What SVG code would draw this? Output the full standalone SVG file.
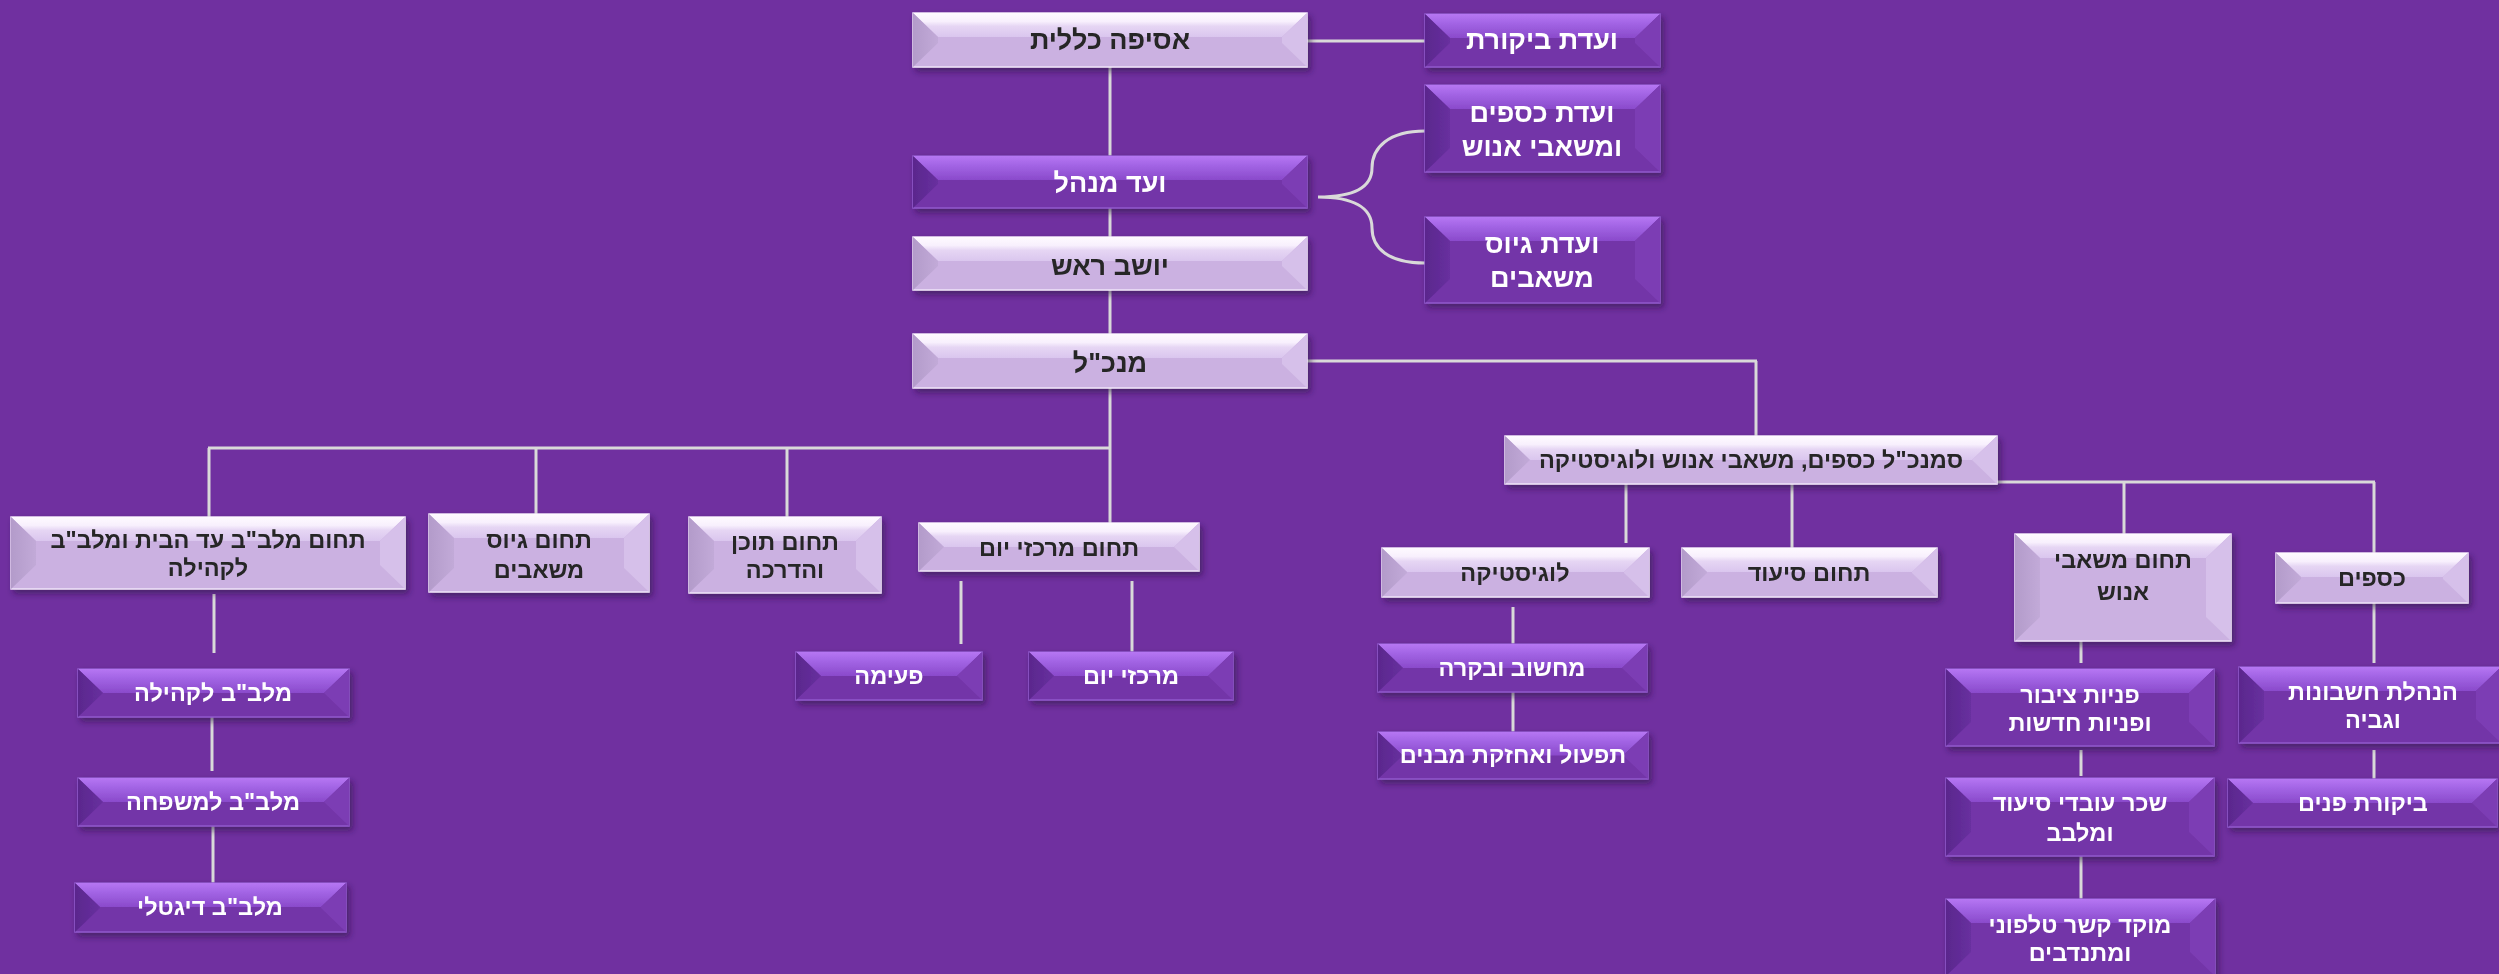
<svg xmlns="http://www.w3.org/2000/svg" width="2499" height="974" viewBox="0 0 2499 974">
<defs>
<linearGradient id="ltTop" x1="0" y1="0" x2="0" y2="1"><stop offset="0" stop-color="#fefaff"/><stop offset="0.35" stop-color="#f8f0fd"/><stop offset="0.55" stop-color="#e6d6f4"/><stop offset="1" stop-color="#dac6ee"/></linearGradient>
<linearGradient id="ltLeft" x1="0" y1="0" x2="1" y2="0"><stop offset="0" stop-color="#b39bca"/><stop offset="1" stop-color="#c2aad8"/></linearGradient>
<linearGradient id="dkTop" x1="0" y1="0" x2="0" y2="1"><stop offset="0" stop-color="#b676f3"/><stop offset="0.4" stop-color="#a264e4"/><stop offset="1" stop-color="#8a4acb"/></linearGradient>
<linearGradient id="dkLeft" x1="0" y1="0" x2="1" y2="0"><stop offset="0" stop-color="#5a278d"/><stop offset="1" stop-color="#68309f"/></linearGradient>
<filter id="sh" x="-10%" y="-20%" width="125%" height="160%"><feDropShadow dx="3" dy="4" stdDeviation="3" flood-color="#2a0a40" flood-opacity="0.55"/></filter>
</defs>
<style>
.lt .b{fill:#cbb1e1;stroke:#efe4f8;stroke-width:1.5}
.lt .t{fill:url(#ltTop)}
.lt .l{fill:url(#ltLeft)}
.lt .r{fill:#d6c0ea}
.dk .b{fill:#7334a8;stroke:#9058cc;stroke-width:1.5}
.dk .t{fill:url(#dkTop)}
.dk .l{fill:url(#dkLeft)}
.dk .r{fill:#7c3db4}
.node{filter:url(#sh)}
text{font-family:"Liberation Sans","DejaVu Sans",sans-serif;font-weight:bold;text-anchor:middle;direction:rtl}
.lt text{fill:#262626}
.dk text{fill:#ffffff}
.f27{font-size:27px}
.f22{font-size:23.5px}
#connectors path,#connectors line{stroke:#d9d9d9;stroke-width:3;fill:none}
</style>
<rect width="2499" height="974" fill="#7030a0"/>

<g id="connectors">
<line x1="1307" y1="41" x2="1425" y2="41"/>
<line x1="1110" y1="67" x2="1110" y2="156"/>
<line x1="1110" y1="208" x2="1110" y2="237"/>
<line x1="1110" y1="290" x2="1110" y2="334"/>
<line x1="1110" y1="388" x2="1110" y2="523"/>
<line x1="208" y1="448" x2="1110" y2="448"/>
<line x1="209" y1="448" x2="209" y2="517"/>
<line x1="536" y1="448" x2="536" y2="514"/>
<line x1="787" y1="448" x2="787" y2="517"/>
<line x1="1307" y1="361" x2="1757" y2="361"/>
<line x1="1756" y1="361" x2="1756" y2="436"/>
<line x1="1626" y1="484" x2="1626" y2="543"/>
<line x1="1792" y1="484" x2="1792" y2="548"/>
<line x1="1997" y1="482" x2="2375" y2="482"/>
<line x1="2124" y1="482" x2="2124" y2="534"/>
<line x1="2374" y1="482" x2="2374" y2="553"/>
<line x1="1513" y1="607" x2="1513" y2="644"/>
<line x1="1513" y1="692" x2="1513" y2="732"/>
<line x1="2081" y1="641" x2="2081" y2="663"/>
<line x1="2081" y1="750" x2="2081" y2="776"/>
<line x1="2081" y1="853" x2="2081" y2="900"/>
<line x1="2374" y1="603" x2="2374" y2="663"/>
<line x1="2374" y1="750" x2="2374" y2="779"/>
<line x1="961" y1="581" x2="961" y2="644"/>
<line x1="1132" y1="581" x2="1132" y2="652"/>
<line x1="214" y1="594" x2="214" y2="653"/>
<line x1="212" y1="717" x2="212" y2="771"/>
<line x1="213" y1="826" x2="213" y2="883"/>
<path d="M1425,131 C1388,131 1372,148 1372,168 C1372,188 1352,197 1318,197 C1352,197 1372,207 1372,228 C1372,248 1388,263 1425,263"/>
</g>

<g id="n-asifa" class="node lt" transform="translate(913,13)">
<rect class="b" width="394" height="54"/><polygon class="t" points="0,0 394,0 369,24 25,24"/><polygon class="l" points="0,0 25,24 25,30 0,54"/><polygon class="r" points="394,0 394,54 369,30 369,24"/>
<text class="f27" x="197" y="36">אסיפה כללית</text></g>

<g id="n-bikoret" class="node dk" transform="translate(1425,14)">
<rect class="b" width="235" height="53"/><polygon class="t" points="0,0 235,0 210,24 25,24"/><polygon class="l" points="0,0 25,24 25,29 0,53"/><polygon class="r" points="235,0 235,53 210,29 210,24"/>
<text class="f27" x="117" y="35">ועדת ביקורת</text></g>

<g id="n-vaad" class="node dk" transform="translate(913,156)">
<rect class="b" width="394" height="52"/><polygon class="t" points="0,0 394,0 369,24 25,24"/><polygon class="l" points="0,0 25,24 25,28 0,52"/><polygon class="r" points="394,0 394,52 369,28 369,24"/>
<text class="f27" x="197" y="36">ועד מנהל</text></g>

<g id="n-ksafim-v" class="node dk" transform="translate(1425,85)">
<rect class="b" width="235" height="87"/><polygon class="t" points="0,0 235,0 210,24 25,24"/><polygon class="l" points="0,0 25,24 25,63 0,87"/><polygon class="r" points="235,0 235,87 210,63 210,24"/>
<text class="f27" x="117" y="37">ועדת כספים</text><text class="f27" x="117" y="71">ומשאבי אנוש</text></g>

<g id="n-gius-v" class="node dk" transform="translate(1425,217)">
<rect class="b" width="235" height="86"/><polygon class="t" points="0,0 235,0 210,24 25,24"/><polygon class="l" points="0,0 25,24 25,62 0,86"/><polygon class="r" points="235,0 235,86 210,62 210,24"/>
<text class="f27" x="117" y="36">ועדת גיוס</text><text class="f27" x="117" y="70">משאבים</text></g>

<g id="n-yoshev" class="node lt" transform="translate(913,237)">
<rect class="b" width="394" height="53"/><polygon class="t" points="0,0 394,0 369,24 25,24"/><polygon class="l" points="0,0 25,24 25,29 0,53"/><polygon class="r" points="394,0 394,53 369,29 369,24"/>
<text class="f27" x="197" y="38">יושב ראש</text></g>

<g id="n-mankal" class="node lt" transform="translate(913,334)">
<rect class="b" width="394" height="54"/><polygon class="t" points="0,0 394,0 369,24 25,24"/><polygon class="l" points="0,0 25,24 25,30 0,54"/><polygon class="r" points="394,0 394,54 369,30 369,24"/>
<text class="f27" x="197" y="38">מנכ"ל</text></g>

<g id="n-smankal" class="node lt" transform="translate(1505,436)">
<rect class="b" width="492" height="48"/><polygon class="t" points="0,0 492,0 467,24 25,24"/><polygon class="l" points="0,0 25,24 0,48"/><polygon class="r" points="492,0 492,48 467,24"/>
<text class="f22" x="246" y="32">סמנכ"ל כספים, משאבי אנוש ולוגיסטיקה</text></g>

<g id="n-malbab" class="node lt" transform="translate(11,517)">
<rect class="b" width="394" height="72"/><polygon class="t" points="0,0 394,0 369,24 25,24"/><polygon class="l" points="0,0 25,24 25,48 0,72"/><polygon class="r" points="394,0 394,72 369,48 369,24"/>
<text class="f22" x="197" y="31">תחום מלב"ב עד הבית ומלב"ב</text><text class="f22" x="197" y="59">לקהילה</text></g>

<g id="n-gius-t" class="node lt" transform="translate(429,514)">
<rect class="b" width="220" height="78"/><polygon class="t" points="0,0 220,0 195,24 25,24"/><polygon class="l" points="0,0 25,24 25,54 0,78"/><polygon class="r" points="220,0 220,78 195,54 195,24"/>
<text class="f22" x="110" y="34">תחום גיוס</text><text class="f22" x="110" y="64">משאבים</text></g>

<g id="n-tochen" class="node lt" transform="translate(689,517)">
<rect class="b" width="192" height="76"/><polygon class="t" points="0,0 192,0 167,24 25,24"/><polygon class="l" points="0,0 25,24 25,52 0,76"/><polygon class="r" points="192,0 192,76 167,52 167,24"/>
<text class="f22" x="96" y="33">תחום תוכן</text><text class="f22" x="96" y="61">והדרכה</text></g>

<g id="n-merkazim-t" class="node lt" transform="translate(919,523)">
<rect class="b" width="280" height="48"/><polygon class="t" points="0,0 280,0 255,24 25,24"/><polygon class="l" points="0,0 25,24 0,48"/><polygon class="r" points="280,0 280,48 255,24"/>
<text class="f22" x="140" y="33">תחום מרכזי יום</text></g>

<g id="n-paima" class="node dk" transform="translate(796,652)">
<rect class="b" width="186" height="48"/><polygon class="t" points="0,0 186,0 161,24 25,24"/><polygon class="l" points="0,0 25,24 0,48"/><polygon class="r" points="186,0 186,48 161,24"/>
<text class="f22" x="93" y="32">פעימה</text></g>

<g id="n-merkazey" class="node dk" transform="translate(1029,652)">
<rect class="b" width="204" height="48"/><polygon class="t" points="0,0 204,0 179,24 25,24"/><polygon class="l" points="0,0 25,24 0,48"/><polygon class="r" points="204,0 204,48 179,24"/>
<text class="f22" x="102" y="32">מרכזי יום</text></g>

<g id="n-log" class="node lt" transform="translate(1382,548)">
<rect class="b" width="267" height="49"/><polygon class="t" points="0,0 267,0 242,24 25,24"/><polygon class="l" points="0,0 25,24 25,25 0,49"/><polygon class="r" points="267,0 267,49 242,25 242,24"/>
<text class="f22" x="133" y="33">לוגיסטיקה</text></g>

<g id="n-siud" class="node lt" transform="translate(1682,548)">
<rect class="b" width="255" height="49"/><polygon class="t" points="0,0 255,0 230,24 25,24"/><polygon class="l" points="0,0 25,24 25,25 0,49"/><polygon class="r" points="255,0 255,49 230,25 230,24"/>
<text class="f22" x="127" y="33">תחום סיעוד</text></g>

<g id="n-hr" class="node lt" transform="translate(2015,534)">
<rect class="b" width="216" height="107"/><polygon class="t" points="0,0 216,0 191,24 25,24"/><polygon class="l" points="0,0 25,24 25,83 0,107"/><polygon class="r" points="216,0 216,107 191,83 191,24"/>
<text class="f22" x="108" y="34">תחום משאבי</text><text class="f22" x="108" y="66">אנוש</text></g>

<g id="n-ksafim" class="node lt" transform="translate(2276,553)">
<rect class="b" width="192" height="50"/><polygon class="t" points="0,0 192,0 167,24 25,24"/><polygon class="l" points="0,0 25,24 25,26 0,50"/><polygon class="r" points="192,0 192,50 167,26 167,24"/>
<text class="f22" x="96" y="33">כספים</text></g>

<g id="n-mahshuv" class="node dk" transform="translate(1378,644)">
<rect class="b" width="269" height="48"/><polygon class="t" points="0,0 269,0 244,24 25,24"/><polygon class="l" points="0,0 25,24 0,48"/><polygon class="r" points="269,0 269,48 244,24"/>
<text class="f22" x="134" y="32">מחשוב ובקרה</text></g>

<g id="n-tiful" class="node dk" transform="translate(1378,732)">
<rect class="b" width="270" height="47"/><polygon class="t" points="0,0 270,0 245,23.5 25,23.5"/><polygon class="l" points="0,0 25,23.5 0,47"/><polygon class="r" points="270,0 270,47 245,23.5"/>
<text class="f22" x="135" y="31">תפעול ואחזקת מבנים</text></g>

<g id="n-pniyot" class="node dk" transform="translate(1946,669)">
<rect class="b" width="268" height="77"/><polygon class="t" points="0,0 268,0 243,24 25,24"/><polygon class="l" points="0,0 25,24 25,53 0,77"/><polygon class="r" points="268,0 268,77 243,53 243,24"/>
<text class="f22" x="134" y="34">פניות ציבור</text><text class="f22" x="134" y="62">ופניות חדשות</text></g>

<g id="n-hanhala" class="node dk" transform="translate(2239,667)">
<rect class="b" width="262" height="76"/><polygon class="t" points="0,0 262,0 237,24 25,24"/><polygon class="l" points="0,0 25,24 25,52 0,76"/><polygon class="r" points="262,0 262,76 237,52 237,24"/>
<text class="f22" x="134" y="33">הנהלת חשבונות</text><text class="f22" x="134" y="61">וגביה</text></g>

<g id="n-bikoret-p" class="node dk" transform="translate(2228,779)">
<rect class="b" width="269" height="48"/><polygon class="t" points="0,0 269,0 244,24 25,24"/><polygon class="l" points="0,0 25,24 0,48"/><polygon class="r" points="269,0 269,48 244,24"/>
<text class="f22" x="135" y="32">ביקורת פנים</text></g>

<g id="n-schar" class="node dk" transform="translate(1946,778)">
<rect class="b" width="268" height="78"/><polygon class="t" points="0,0 268,0 243,24 25,24"/><polygon class="l" points="0,0 25,24 25,54 0,78"/><polygon class="r" points="268,0 268,78 243,54 243,24"/>
<text class="f22" x="134" y="33">שכר עובדי סיעוד</text><text class="f22" x="134" y="63">ומלבב</text></g>

<g id="n-moked" class="node dk" transform="translate(1946,899)">
<rect class="b" width="269" height="77"/><polygon class="t" points="0,0 269,0 244,24 25,24"/><polygon class="l" points="0,0 25,24 25,53 0,77"/><polygon class="r" points="269,0 269,77 244,53 244,24"/>
<text class="f22" x="134" y="34">מוקד קשר טלפוני</text><text class="f22" x="134" y="62">ומתנדבים</text></g>

<g id="n-kehila" class="node dk" transform="translate(78,669)">
<rect class="b" width="271" height="48"/><polygon class="t" points="0,0 271,0 246,24 25,24"/><polygon class="l" points="0,0 25,24 0,48"/><polygon class="r" points="271,0 271,48 246,24"/>
<text class="f22" x="135" y="32">מלב"ב לקהילה</text></g>

<g id="n-mishpaha" class="node dk" transform="translate(78,778)">
<rect class="b" width="271" height="48"/><polygon class="t" points="0,0 271,0 246,24 25,24"/><polygon class="l" points="0,0 25,24 0,48"/><polygon class="r" points="271,0 271,48 246,24"/>
<text class="f22" x="135" y="32">מלב"ב למשפחה</text></g>

<g id="n-digitali" class="node dk" transform="translate(75,883)">
<rect class="b" width="271" height="49"/><polygon class="t" points="0,0 271,0 246,24 25,24"/><polygon class="l" points="0,0 25,24 25,25 0,49"/><polygon class="r" points="271,0 271,49 246,25 246,24"/>
<text class="f22" x="135" y="32">מלב"ב דיגטלי</text></g>
</svg>
